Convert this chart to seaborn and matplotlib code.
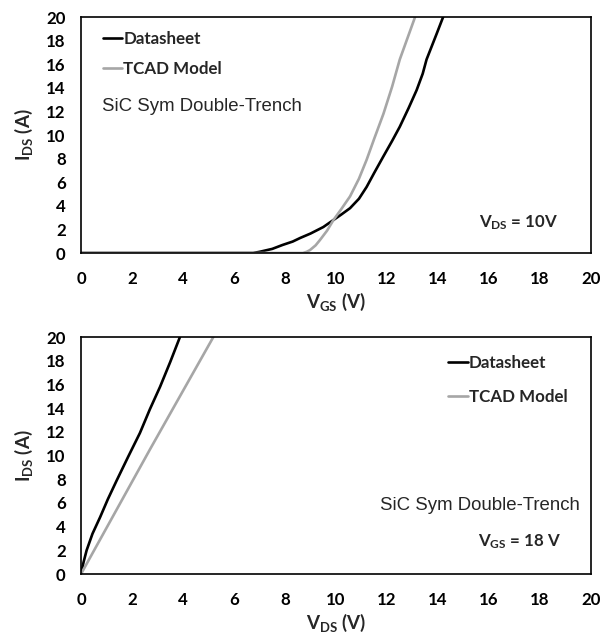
import numpy as np
import pandas as pd
import matplotlib
matplotlib.use("Agg")
import matplotlib.pyplot as plt
import seaborn as sns

# Transfer characteristic (I_DS vs V_GS at V_DS = 10 V)
vgs_datasheet = [0.0, 6.75, 7.0, 7.5, 7.9, 8.3, 8.6, 9.0, 9.5, 9.9, 10.2, 10.55,
                 10.9, 11.2, 11.5, 11.86, 12.2, 12.5, 12.85, 13.16, 13.4, 13.55,
                 13.75, 13.95, 14.2]
ids_datasheet_tr = [0.0, 0.0, 0.1, 0.35, 0.68, 0.97, 1.28, 1.65, 2.2, 2.8, 3.25, 3.8,
                    4.6, 5.6, 6.8, 8.2, 9.5, 10.7, 12.3, 13.8, 15.2, 16.4,
                    17.5, 18.6, 20.0]
vgs_tcad = [0.0, 8.7, 8.85, 8.98, 9.2, 9.37, 9.65, 9.9, 10.2, 10.55, 10.9, 11.2,
            11.5, 11.86, 12.2, 12.5, 12.8, 13.1]
ids_tcad_tr = [0.0, 0.0, 0.1, 0.25, 0.65, 1.1, 1.9, 2.8, 3.7, 4.8, 6.3, 7.9,
               9.7, 11.8, 14.1, 16.4, 18.2, 20.0]

# Output characteristic (I_DS vs V_DS at V_GS = 18 V)
vds_datasheet = [0.0, 0.1, 0.22, 0.45, 0.75, 1.05, 1.4, 1.85, 2.31, 2.7, 3.1, 3.5, 3.88]
ids_datasheet_out = [0.0, 1.0, 2.0, 3.4, 4.8, 6.3, 7.9, 9.9, 11.9, 13.9, 15.8, 17.9, 20.0]
vds_tcad = [0.0, 2.7, 5.19]
ids_tcad_out = [0.0, 10.5, 20.0]

x_ticks = list(range(0, 21, 2))
y_ticks = list(range(0, 21, 2))
series_names = ["Datasheet", "TCAD Model"]
series_colors = {"Datasheet": "#000000", "TCAD Model": "#A6A6A6"}

sns.set_style("white")
plt.rcParams["font.family"] = ["Lato", "DejaVu Sans"]
plt.rcParams["font.weight"] = "bold"
plt.rcParams["mathtext.fontset"] = "custom"
plt.rcParams["mathtext.bf"] = "Lato:bold"
plt.rcParams["mathtext.rm"] = "Lato:bold"

transfer = pd.concat([
    pd.DataFrame({"V": vgs_datasheet, "I": ids_datasheet_tr, "Series": "Datasheet"}),
    pd.DataFrame({"V": vgs_tcad, "I": ids_tcad_tr, "Series": "TCAD Model"}),
])
output = pd.concat([
    pd.DataFrame({"V": vds_datasheet, "I": ids_datasheet_out, "Series": "Datasheet"}),
    pd.DataFrame({"V": vds_tcad, "I": ids_tcad_out, "Series": "TCAD Model"}),
])

fig = plt.figure(figsize=(6.01, 6.33), dpi=100)
ax1 = fig.add_axes([0.1348, 0.6003, 0.8486, 0.3728])
ax2 = fig.add_axes([0.1348, 0.0932, 0.8486, 0.3744])

FS = 12.2
LFS = 13.5


def style_axes(ax, xlabel):
    ax.set_xlim(0, 20)
    ax.set_ylim(0, 20)
    ax.set_xticks(x_ticks)
    ax.set_yticks(y_ticks)
    ax.tick_params(axis="both", direction="in", length=4, width=1.2,
                   labelsize=FS, colors="black")
    ax.tick_params(axis="x", pad=13)
    ax.tick_params(axis="y", pad=11)
    for lab in ax.get_xticklabels() + ax.get_yticklabels():
        lab.set_fontweight("bold")
    for sp in ax.spines.values():
        sp.set_visible(True)
        sp.set_color("black")
        sp.set_linewidth(1.2)
    ax.set_xlabel(xlabel, fontsize=LFS, fontweight="bold", labelpad=3)
    ax.set_ylabel(r"$\mathbf{I_{DS}}$ (A)", fontsize=LFS, fontweight="bold", labelpad=8)


sns.lineplot(data=transfer, x="V", y="I", hue="Series", hue_order=series_names,
             palette=series_colors, linewidth=1.9, sort=False, ax=ax1, legend=True)
sns.lineplot(data=output, x="V", y="I", hue="Series", hue_order=series_names,
             palette=series_colors, linewidth=1.9, sort=False, ax=ax2, legend=True)
for ax in (ax1, ax2):
    for ln in ax.get_lines():
        ln.set_solid_joinstyle("round")

style_axes(ax1, r"$\mathbf{V_{GS}}$ (V)")
style_axes(ax2, r"$\mathbf{V_{DS}}$ (V)")

leg_kw = dict(frameon=False, fontsize=FS, handlelength=1.15, handletextpad=0.05,
              borderpad=0, borderaxespad=0, title=None)
leg1 = ax1.legend(loc="upper left", bbox_to_anchor=(0.043, 0.94),
                  labelspacing=0.8, **leg_kw)
leg2 = ax2.legend(loc="upper left", bbox_to_anchor=(0.72, 0.925),
                  labelspacing=1.05, **leg_kw)
for leg in (leg1, leg2):
    for t in leg.get_texts():
        t.set_fontweight("bold")
    for h in leg.get_lines():
        h.set_linewidth(1.9)

ax1.text(0.041, 0.619, "SiC Sym Double-Trench", transform=ax1.transAxes,
         fontsize=13.4, fontfamily="Liberation Sans", fontweight="normal",
         va="center", ha="left")
ax1.text(0.935, 0.128, r"$\mathbf{V_{DS}}$ = 10V", transform=ax1.transAxes,
         fontsize=FS, fontweight="bold", va="center", ha="right")

ax2.text(0.978, 0.291, "SiC Sym Double-Trench", transform=ax2.transAxes,
         fontsize=13.4, fontfamily="Liberation Sans", fontweight="normal",
         va="center", ha="right")
ax2.text(0.941, 0.135, r"$\mathbf{V_{GS}}$ = 18 V", transform=ax2.transAxes,
         fontsize=FS, fontweight="bold", va="center", ha="right")

fig.savefig("out.png", dpi=100, facecolor="white")
